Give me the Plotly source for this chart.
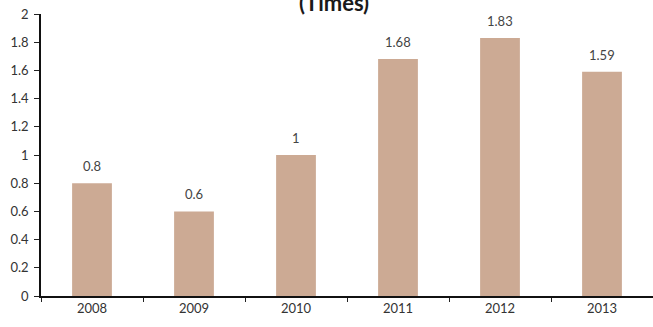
import plotly.graph_objects as go

years = ["2008", "2009", "2010", "2011", "2012", "2013"]
values = [0.8, 0.6, 1, 1.68, 1.83, 1.59]
value_labels = ["0.8", "0.6", "1", "1.68", "1.83", "1.59"]
y_ticks = [0, 0.2, 0.4, 0.6, 0.8, 1, 1.2, 1.4, 1.6, 1.8, 2]
y_tick_labels = ["0", "0.2", "0.4", "0.6", "0.8", "1", "1.2", "1.4", "1.6", "1.8", "2"]

BAR = "rgb(204,170,148)"
FONT = "Lato, 'Open Sans', sans-serif"

fig = go.Figure()
fig.add_trace(go.Bar(
    x=years, y=values,
    marker=dict(color=BAR, line=dict(width=0)),
    width=0.39,
    hoverinfo="skip",
))

# value labels above each bar (category index positions)
for i, (v, lab) in enumerate(zip(values, value_labels)):
    fig.add_annotation(
        x=i, y=v, text=lab, showarrow=False,
        yanchor="bottom", yshift=7,
        font=dict(family=FONT, size=13, color="#444"),
    )

# chart title, partly above the canvas top
fig.add_annotation(
    xref="paper", yref="paper", x=0.479, y=1,
    text="<b>(Times)</b>", showarrow=False,
    xanchor="center", yanchor="bottom", yshift=-4,
    font=dict(family=FONT, size=22, color="#1a1a1a"),
)

fig.update_layout(
    width=653, height=327,
    margin=dict(l=41, r=0, t=14, b=31),
    paper_bgcolor="white", plot_bgcolor="white",
    showlegend=False,
    font=dict(family=FONT, size=13, color="#333"),
    xaxis=dict(
        type="category",
        showline=True, linecolor="#111", linewidth=1.5,
        ticks="outside", ticklen=4, tickcolor="#222",
        tickson="boundaries",
        tickfont=dict(family=FONT, size=13, color="#333"),
        showgrid=False, zeroline=False,
        range=[-0.5, 5.5],
    ),
    yaxis=dict(
        range=[0, 2],
        tickvals=y_ticks, ticktext=y_tick_labels,
        showline=True, linecolor="#111", linewidth=1.5,
        ticks="outside", ticklen=5, tickcolor="#222",
        ticklabelstandoff=3,
        tickfont=dict(family=FONT, size=13, color="#333"),
        showgrid=False, zeroline=False,
    ),
)

fig.write_html("out.html")
